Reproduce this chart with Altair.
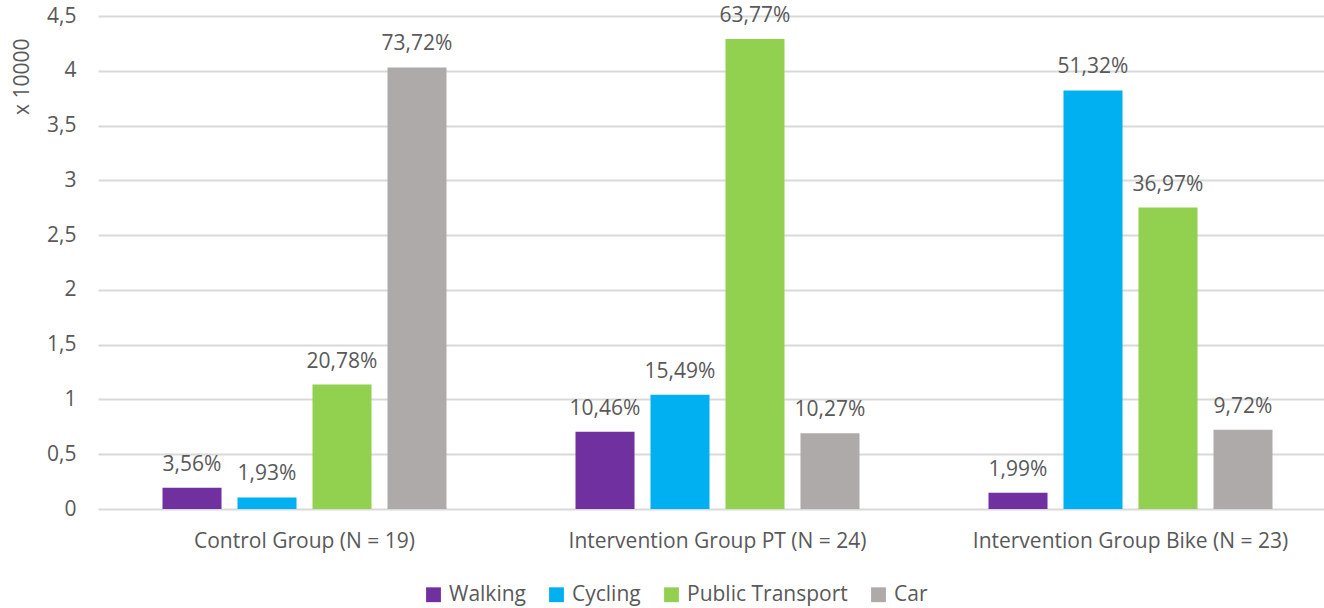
import altair as alt
import pandas as pd

groups = ["Control Group (N = 19)", "Intervention Group PT (N = 24)", "Intervention Group Bike (N = 23)"]
modes = ["Walking", "Cycling", "Public Transport", "Car"]
colors = ["#7030A0", "#00B0F0", "#92D050", "#AEAAAA"]

values = [
    [0.195, 0.105, 1.136, 4.030],
    [0.704, 1.042, 4.290, 0.691],
    [0.148, 3.820, 2.752, 0.723],
]
labels = [
    ["3,56%", "1,93%", "20,78%", "73,72%"],
    ["10,46%", "15,49%", "63,77%", "10,27%"],
    ["1,99%", "51,32%", "36,97%", "9,72%"],
]

rows = []
for gi, g in enumerate(groups):
    for mi, m in enumerate(modes):
        rows.append({"group": g, "mode": m, "value": values[gi][mi], "label": labels[gi][mi]})
df = pd.DataFrame(rows)

FONT = "Open Sans"
TXT = "#595959"
FS = 21

x = alt.X("group:N", sort=groups, title=None,
          scale=alt.Scale(paddingInner=0, paddingOuter=0, range=[0, 1239]),
          axis=alt.Axis(labelAngle=0, labelFontSize=FS, labelColor=TXT, labelFont=FONT,
                        ticks=False, domain=False, labelPadding=21, labelLimit=0))
xo = alt.XOffset("mode:N", sort=modes,
                 scale=alt.Scale(paddingInner=0.213, paddingOuter=0.86))
y = alt.Y("value:Q", title="x 10000",
          scale=alt.Scale(domain=[0, 4.5], nice=False),
          axis=alt.Axis(values=[0, 0.5, 1, 1.5, 2, 2.5, 3, 3.5, 4, 4.5],
                        labelExpr="replace(format(datum.value, ''), '.', ',')",
                        labelFontSize=FS, labelColor=TXT, labelFont=FONT, labelPadding=22,
                        ticks=False, domain=False, gridColor="#D9D9D9", gridWidth=2,
                        titleFontSize=FS, titleColor=TXT, titleFont=FONT, titleFontWeight="normal",
                        titleAngle=-90, titleX=-76, titleY=22, titleAlign="right",
                        titleBaseline="middle"))
color = alt.Color("mode:N", sort=modes, scale=alt.Scale(domain=modes, range=colors),
                  legend=alt.Legend(title=None, orient="none", direction="horizontal",
                                    legendX=325, legendY=568, symbolType="square", symbolSize=220,
                                    symbolStrokeWidth=0, labelFontSize=FS, labelColor=TXT,
                                    labelFont=FONT, columnPadding=20, labelOffset=5, labelLimit=0))

bars = alt.Chart(df).mark_bar().encode(x=x, xOffset=xo, y=y, color=color)
text = alt.Chart(df).mark_text(dy=-13, fontSize=FS, color=TXT, font=FONT, baseline="bottom").encode(
    x=x, xOffset=xo, y=y, text="label:N")

chart = alt.layer(bars, text).properties(
    width=1226, height=493,
    background="white",
    autosize=alt.AutoSizeParams(type="none"),
    padding={"left": 98, "top": 16, "right": 0, "bottom": 99},
).configure_view(stroke=None)

chart.save("out.html", embed_options={"renderer": "svg", "actions": False})
